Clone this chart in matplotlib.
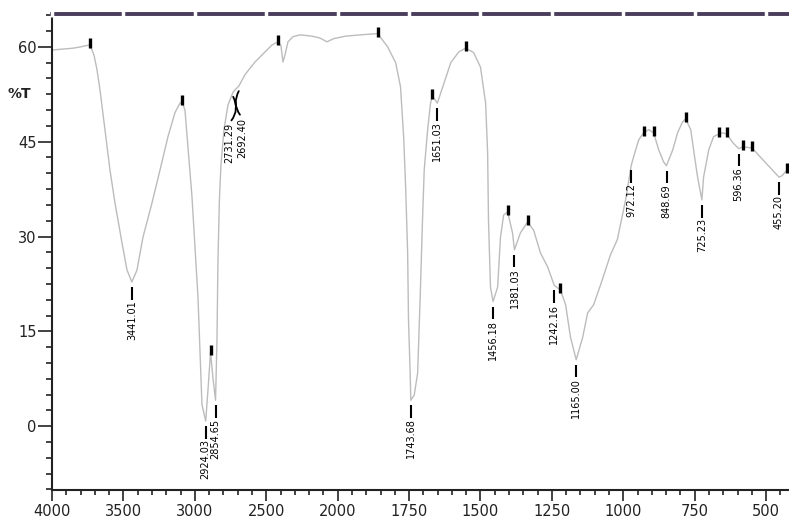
import numpy as np
import matplotlib
matplotlib.use("Agg")
import matplotlib.pyplot as plt

## Data: FT-IR spectrum (wavenumber in cm-1, transmittance in %T)
wavenumber = [4000, 3950, 3900, 3850, 3800, 3760, 3734, 3706, 3685, 3664, 3629, 3594, 3559, 3510,
              3475, 3441, 3405, 3363, 3300, 3244, 3188, 3139, 3104, 3090, 3069, 3048, 3020, 2999,
              2978, 2964, 2950, 2924, 2908, 2890, 2873, 2855, 2845, 2838, 2828, 2817, 2796, 2768,
              2731, 2692, 2649, 2579, 2509, 2460, 2418, 2397, 2383, 2369, 2348, 2313, 2264, 2180,
              2124, 2075, 2028, 1972, 1920, 1860, 1825, 1797, 1780, 1769, 1762, 1755, 1752, 1746,
              1744, 1732, 1720, 1710, 1703, 1697, 1685, 1675, 1668, 1651, 1632, 1604, 1576, 1552,
              1524, 1500, 1482, 1475, 1472, 1465, 1456, 1440, 1430, 1419, 1405, 1388, 1381, 1360,
              1335, 1314, 1290, 1265, 1242, 1220, 1202, 1185, 1165, 1142, 1125, 1104, 1080, 1045,
              1021, 992, 972, 964, 946, 929, 911, 894, 876, 859, 849, 827, 810, 793, 782, 764,
              754, 740, 725, 719, 701, 684, 666, 652, 637, 616, 596, 581, 549, 521, 486, 455,
              445, 427, 420]
transmittance = [59.5, 59.6, 59.7, 59.8, 60.0, 60.2, 60.3, 58.7, 56.4, 53.2, 46.9, 40.5, 35.3, 29.0,
                 24.7, 22.8, 24.7, 29.9, 35.3, 40.5, 45.8, 49.6, 51.1, 51.3, 50.0, 44.2, 36.3, 28.4,
                 20.4, 12.1, 3.4, 0.8, 5.7, 11.7, 7.6, 4.1, 13.6, 26.3, 35.8, 41.3, 46.9, 50.8,
                 52.9, 53.8, 55.6, 57.6, 59.2, 60.3, 60.8, 60.2, 57.6, 58.7, 60.8, 61.6, 61.9, 61.7,
                 61.4, 60.8, 61.3, 61.7, 61.9, 62.1, 60.0, 57.5, 53.7, 45.8, 37.8, 27.4, 16.8, 8.1,
                 4.1, 4.9, 8.4, 22.0, 32.6, 40.5, 46.9, 51.1, 52.2, 51.1, 53.7, 57.5, 59.2, 59.8,
                 59.1, 56.8, 51.1, 43.2, 32.6, 22.0, 19.7, 22.0, 29.9, 33.4, 33.9, 30.6, 27.9, 30.6,
                 32.3, 31.0, 27.4, 25.2, 22.3, 21.5, 19.2, 14.1, 10.5, 14.1, 17.9, 19.2, 22.3, 27.1,
                 29.5, 35.8, 41.3, 42.6, 45.3, 46.4, 46.9, 46.4, 43.7, 41.8, 41.2, 43.7, 46.4, 48.1,
                 48.6, 46.9, 43.7, 39.4, 35.8, 39.4, 43.7, 45.8, 46.2, 46.4, 46.2, 44.8, 43.9, 44.2,
                 44.0, 42.6, 40.9, 39.4, 39.6, 40.5, 40.9]

# unlabelled transmittance maxima (small black markers)
max_wn = [3734, 3090, 2890, 2418, 1860, 1668, 1552, 1405, 1335, 1220, 929, 894, 782, 666, 637, 581, 549, 427]
max_t = [60.3, 51.3, 11.7, 60.8, 62.1, 52.2, 59.8, 33.9, 32.3, 21.5, 46.4, 46.4, 48.6, 46.2, 46.2, 44.2, 44.0, 40.5]

# labelled absorption bands
band_wn = [3441.01, 2924.03, 2854.65, 1743.68, 1651.03, 1456.18, 1381.03, 1242.16, 1165.00,
           972.12, 848.69, 725.23, 596.36, 455.20]
band_t = [22.8, 0.8, 4.1, 4.1, 51.1, 19.7, 27.9, 22.3, 10.5, 41.3, 41.2, 35.8, 43.9, 39.4]
# the two crowded bands with curly leaders
curly_wn = [2731.29, 2692.40]
curly_t = [52.9, 53.8]

x_major = [4000, 3500, 3000, 2500, 2000, 1750, 1500, 1250, 1000, 750, 500]
y_major = [0, 15, 30, 45, 60]


## Wavenumber axis is compressed by 2 above 2000 cm-1
def fwd(w):
    w = np.asarray(w, dtype=float)
    return np.where(w <= 2000, w, 2000 + (w - 2000) / 2)


def inv(v):
    v = np.asarray(v, dtype=float)
    return np.where(v <= 2000, v, 2000 + 2 * (v - 2000))


fig = plt.figure(figsize=(7.89, 5.19), dpi=100)
ax = fig.add_axes([52 / 789, 29 / 519, 737 / 789, 476 / 519])
ax.set_xscale('function', functions=(fwd, inv))
ax.set_xlim(4000, 420)
ax.set_ylim(-10.1, 65.2)

ax.plot(wavenumber, transmittance, color='#bcbcbc', lw=1.0, zorder=2)

# peak markers
ax.plot(max_wn, [t + 0.3 for t in max_t], ls='none', marker='|', ms=7, mew=2.4, color='black', zorder=3)

# band labels
for w, t in zip(band_wn, band_t):
    ax.vlines(w, t - 2.8, t - 0.8, color='black', lw=1.5, zorder=3)
    ax.text(w, t - 2.9, f"{w:.2f}", rotation=90, ha='center', va='top', fontsize=7, color='black')

for w, t, dx, rad in zip(curly_wn, curly_t, [-3, 2.5], [0.35, -0.35]):
    ax.annotate(f"{w:.2f}", xy=(w, t - 0.8), xytext=(dx, -19), textcoords='offset points',
                rotation=90, ha='center', va='top', fontsize=7, color='black',
                arrowprops=dict(arrowstyle='-', color='black', lw=1.3, relpos=(0.5, 1.0),
                                connectionstyle=f"arc3,rad={rad}", shrinkA=0, shrinkB=0))

## Axis styling
ax.set_xticks(x_major)
ax.set_xticklabels([str(v) for v in x_major])
minor_x = [v for v in list(range(4000, 2000, -100)) + list(range(2000, 420, -50)) if v not in x_major]
ax.set_xticks(minor_x, minor=True)
ax.set_yticks(y_major)
ax.set_yticks(np.arange(-10, 65.1, 2.5), minor=True)

ax.tick_params(axis='x', which='major', direction='out', length=8, width=1.2, labelsize=10.5,
               pad=2, colors='#222222')
ax.tick_params(axis='x', which='minor', direction='out', length=3.5, width=1.2, colors='#222222')
ax.tick_params(axis='y', which='major', direction='out', length=10, width=1.2, labelsize=10.5,
               pad=1, colors='#222222')
ax.tick_params(axis='y', which='minor', direction='out', length=4, width=1.2, colors='#222222')

ax.text(-0.045, 52.5, '%T', transform=ax.get_yaxis_transform(), ha='center', va='center',
        fontsize=10, fontweight='bold', color='#222222')

ax.spines['right'].set_visible(False)
ax.spines['left'].set_linewidth(1.5)
ax.spines['bottom'].set_linewidth(1.5)
ax.spines['left'].set_color('#222222')
ax.spines['bottom'].set_color('#222222')
ax.spines['top'].set_linewidth(2.8)
ax.spines['top'].set_color('#4a3d5c')
# small breaks in the top frame line at each major tick
ax.plot(x_major, [1] * len(x_major), transform=ax.get_xaxis_transform(), ls='none', marker='|',
        ms=5, mew=2.5, color='white', clip_on=False, zorder=5)

fig.savefig('out.png', dpi=100)
